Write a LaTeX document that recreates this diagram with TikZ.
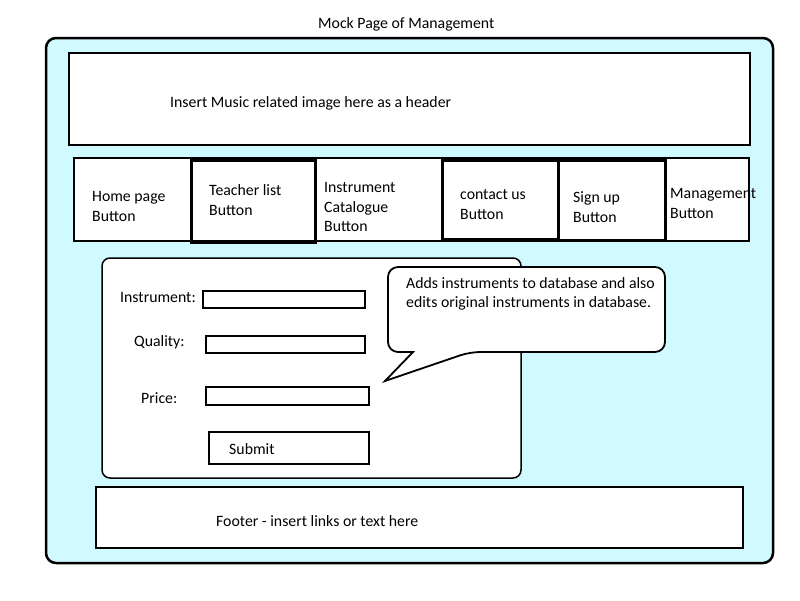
\documentclass[tikz,border=0pt]{standalone}
\usepackage{fontspec}
\setmainfont{Carlito}
\begin{document}
\begin{tikzpicture}[x=1pt,y=-1pt,
  txt/.style={anchor=base west,inner sep=0pt,font=\fontsize{15.8}{19}\selectfont},
  thinbox/.style={draw=black,line width=2pt,fill=white},
  thickbox/.style={draw=black,line width=3pt},
  field/.style={draw=black,line width=1.8pt,fill=white}]
\useasboundingbox (0,0) rectangle (800,600);
% title
\node[txt] (title) at (318,28) {Mock Page of Management};
% outer page
\draw[line width=2.5pt,fill={rgb,255:red,208;green,250;blue,255},rounded corners=10pt] (46,38) rectangle (773,563);
% header
\draw[thinbox] (69,53) rectangle (750,145);
\node[txt] (hdr) at (170,107) {Insert Music related image here as a header};
% nav
\draw[thinbox] (74,158) rectangle (749,241);
\foreach \x in {191,315,442,558,665} \draw[line width=2pt] (\x,158) -- (\x,241);
\draw[thickbox] (191,160) rectangle (315,242);
\draw[thickbox] (442,160) rectangle (558,239);
\draw[thickbox] (558,160) rectangle (665,240);
\node[txt] (n1a) at (92,201) {Home page};
\node[txt] (n1b) at (92,221) {Button};
\node[txt] (n2a) at (209,195) {Teacher list};
\node[txt] (n2b) at (209,215) {Button};
\node[txt] (n3a) at (324,192) {Instrument};
\node[txt] (n3b) at (324,212) {Catalogue};
\node[txt] (n3c) at (324,231) {Button};
\node[txt] (n4a) at (460,199) {contact us};
\node[txt] (n4b) at (460,219) {Button};
\node[txt] (n5a) at (573,202) {Sign up};
\node[txt] (n5b) at (573,222) {Button};
\node[txt] (n6a) at (670,198) {Management};
\node[txt] (n6b) at (670,218) {Button};
% form
\draw[line width=1.5pt,fill=white,rounded corners=8pt] (102,258) rectangle (521,478);
\node[txt] (l1) at (120,302) {Instrument:};
\node[txt] (l2) at (134,346) {Quality:};
\node[txt] (l3) at (141,403) {Price:};
\draw[field] (203,291) rectangle (365,308);
\draw[field] (206,336) rectangle (365,353);
\draw[field] (206,387) rectangle (369,405);
\draw[field] (209,432) rectangle (369,464);
\node[txt] (sub) at (229,454) {Submit};
% callout
\draw[line width=1.8pt,fill=white] (385,381) -- (413,352) [rounded corners=10pt] -- (388,352) -- (388,267) -- (665,267) -- (665,352) -- (470,352) [sharp corners] -- cycle;
\node[txt] (c1) at (406,288) {Adds instruments to database and also};
\node[txt] (c2) at (406,307) {edits original instruments in database.};
% footer
\draw[thinbox] (96,487) rectangle (743,548);
\node[txt] (ft) at (216,526) {Footer - insert links or text here};
\end{tikzpicture}
\end{document}
